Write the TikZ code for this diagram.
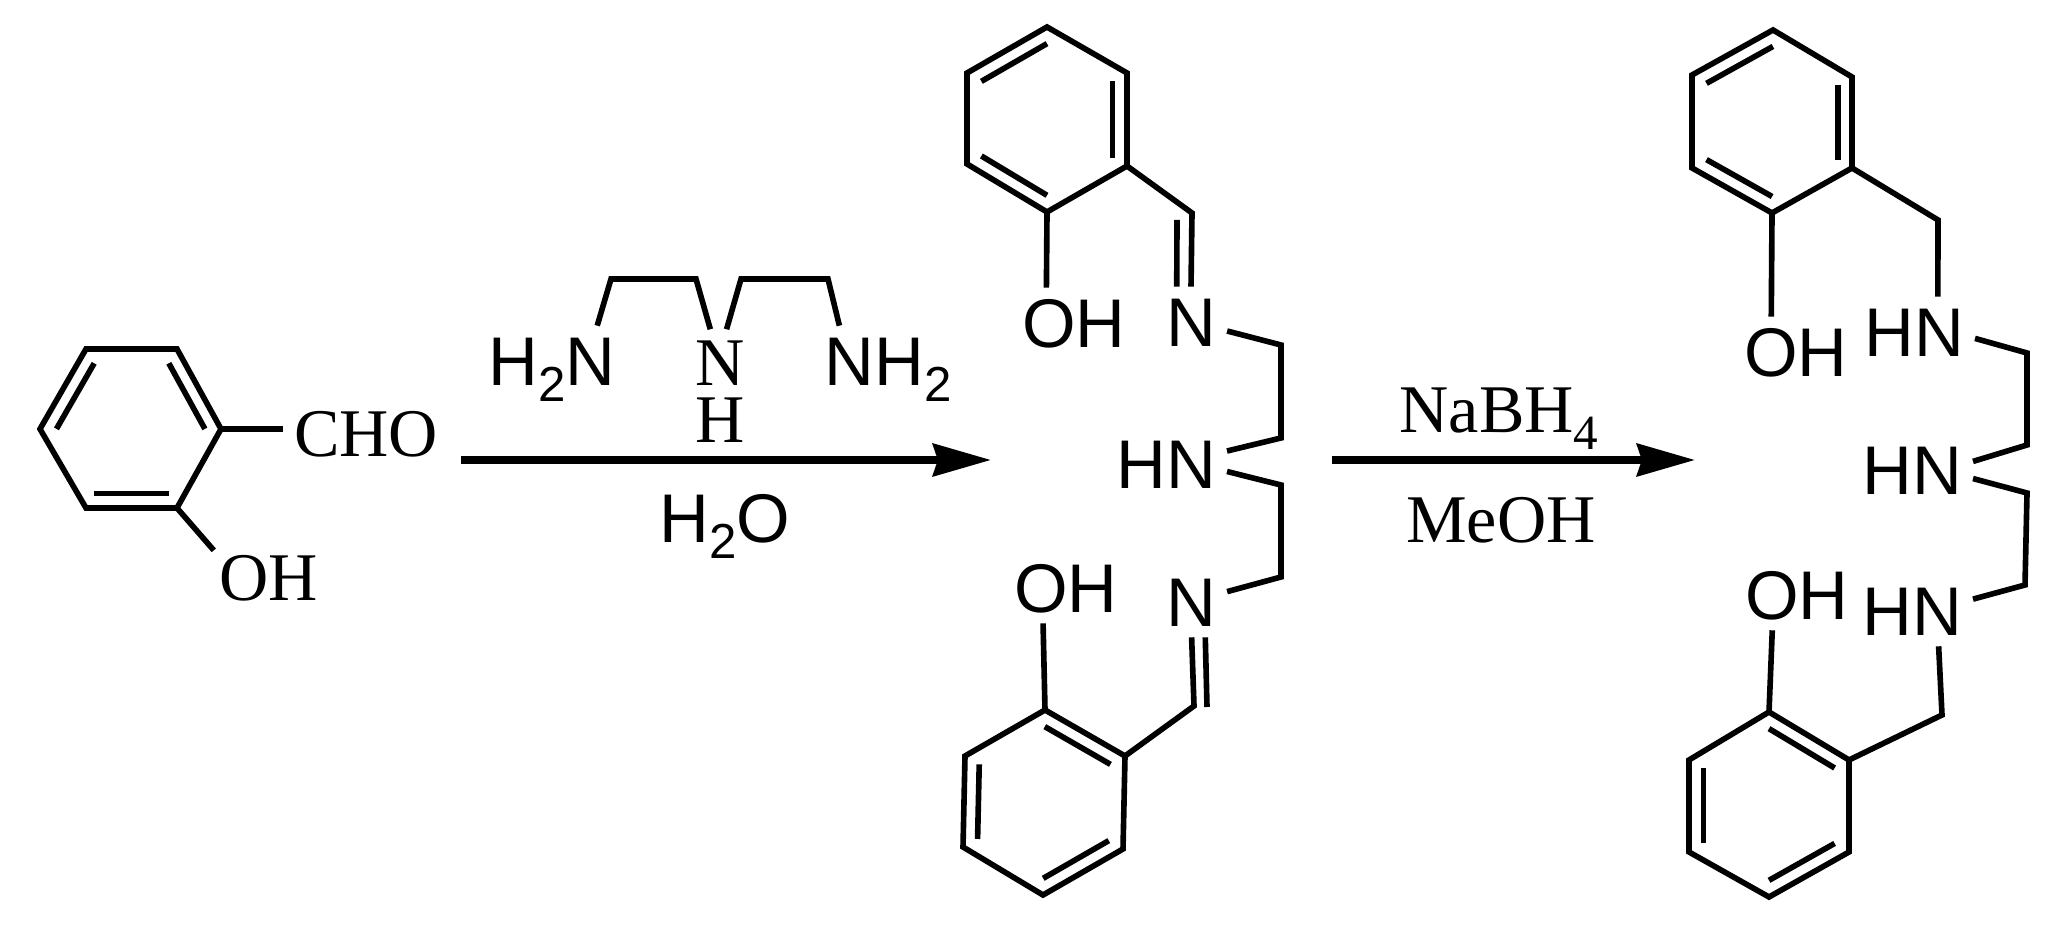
\documentclass[tikz,border=0pt]{standalone}
\usepackage{fontspec}
\setmainfont{Liberation Serif}
\setsansfont{Liberation Sans}
\usetikzlibrary{calc}
\usetikzlibrary{arrows.meta}
\tikzset{
	bond/.style={line width=1.6pt},
	rxn/.style={line width=2.1pt, -{Stealth[length=16.5pt, width=9.2pt, inset=1.4pt]}},
	atom/.style={inner sep=3pt, text height=12.8pt, text depth=0pt, font=\fontsize{19.4}{22}\selectfont},
	satom/.style={inner sep=3pt, text height=13.7pt, text depth=0pt, font=\fontsize{19.6}{22}\selectfont\sffamily}
}
\newcommand{\sbs}[1]{\raisebox{-4.8pt}{\fontsize{14}{14}\selectfont #1}}
\newcommand{\ringbond}[3]{\draw[bond] ($(#1)!.18!(#3)$) -- ($(#2)!.18!(#3)$);}

\begin{document}
\begin{tikzpicture}[y=-1cm]
	\useasboundingbox (0,0) rectangle (20.67,9.28);
	% salicylaldehyde
	\coordinate (a1) at (0.86,3.49);
	\coordinate (a2) at (1.77,3.49);
	\coordinate (a3) at (2.21,4.29);
	\coordinate (a4) at (1.77,5.08);
	\coordinate (a5) at (0.86,5.08);
	\coordinate (a6) at (0.40,4.29);
	\coordinate (ac) at ($(a1)!.5!(a4)$);
	\node[atom] (aCHO) at (3.66,4.34) {CHO};
	\node[atom] (aOH) at (2.69,5.78) {OH};
	\draw[bond] (a1) -- (a2) -- (a3) -- (a4) -- (a5) -- (a6) -- cycle;
	\ringbond{a1}{a6}{ac}
	\ringbond{a2}{a3}{ac}
	\ringbond{a4}{a5}{ac}
	\draw[bond] (a3) -- (a3 -| aCHO.west);
	\draw[bond, shorten >=-2.3pt] (a4) -- (aOH.north west);
	% amine over the first arrow
	\node[satom] (rA) at (5.52,3.61) {H\sbs{2}N};
	\node[atom] (rN) at (7.20,3.63) {N};
	\node[atom] (rH) at (7.20,4.20) {H};
	\node[satom] (rB) at (8.88,3.61) {NH\sbs{2}};
	\coordinate (r1) at (6.11,2.79);
	\coordinate (r2) at (6.96,2.79);
	\coordinate (r3) at (7.41,2.79);
	\coordinate (r4) at (8.28,2.79);
	\draw[bond] (rA.38) -- (r1) -- (r2) -- (rN.106);
	\draw[bond] (rN.79) -- (r3) -- (r4) -- (rB.144);
	% first arrow
	\coordinate (s1) at (4.61,4.60);
	\coordinate (s2) at (9.91,4.60);
	\draw[rxn] (s1) -- (s2);
	\node[satom] (rW) at (7.25,5.18) {H\sbs{2}O};
	% imine, upper half
	\coordinate (b1) at (10.47,0.27);
	\coordinate (b2) at (11.27,0.73);
	\coordinate (b3) at (11.27,1.66);
	\coordinate (b4) at (10.47,2.12);
	\coordinate (b5) at (9.67,1.64);
	\coordinate (b6) at (9.67,0.73);
	\coordinate (bc) at ($(b1)!.5!(b4)$);
	\coordinate (b7) at (11.92,2.13);
	\coordinate (b8) at (11.77,2.20);
	\node[satom] (bOH) at (10.74,3.23) {OH};
	\node[satom] (bN) at (11.91,3.22) {N};
	\draw[bond] (b1) -- (b2) -- (b3) -- (b4) -- (b5) -- (b6) -- cycle;
	\ringbond{b1}{b6}{bc}
	\ringbond{b2}{b3}{bc}
	\ringbond{b4}{b5}{bc}
	\draw[bond] (b4) -- (bOH.128);
	\draw[bond] (b3) -- (b7) -- (bN.90);
	\draw[bond] (b8) -- (bN.112);
	% imine, chain
	\coordinate (m1) at (12.81,3.45);
	\coordinate (m2) at (12.81,4.38);
	\coordinate (m3) at (12.81,4.85);
	\coordinate (m4) at (12.81,5.77);
	\node[satom] (mHN) at (11.66,4.64) {HN};
	\node[satom] (cN) at (11.91,6.02) {N};
	\draw[bond] (bN.-14) -- (m1) -- (m2) -- (mHN.12);
	\draw[bond] (mHN.-7) -- (m3) -- (m4) -- (cN.16);
	% imine, lower half
	\coordinate (c1) at (10.45,7.10);
	\coordinate (c2) at (11.25,7.56);
	\coordinate (c3) at (11.23,8.49);
	\coordinate (c4) at (10.43,8.95);
	\coordinate (c5) at (9.63,8.47);
	\coordinate (c6) at (9.65,7.56);
	\coordinate (cc) at ($(c1)!.5!(c4)$);
	\coordinate (c7) at (11.94,7.06);
	\coordinate (c8) at (12.07,7.07);
	\node[satom] (cOH) at (10.66,5.88) {OH};
	\draw[bond] (c1) -- (c2) -- (c3) -- (c4) -- (c5) -- (c6) -- cycle;
	\ringbond{c1}{c2}{cc}
	\ringbond{c5}{c6}{cc}
	\ringbond{c3}{c4}{cc}
	\draw[bond] (c1) -- (cOH.237);
	\draw[bond] (c2) -- (c7) -- (cN.-89);
	\draw[bond] (c8) -- (cN.-68);
	% second arrow
	\coordinate (s3) at (13.32,4.60);
	\coordinate (s4) at (16.95,4.60);
	\draw[rxn] (s3) -- (s4);
	\node[atom] (sNa) at (14.99,4.10) {NaBH\sbs{4}};
	\node[atom] (sMe) at (15.01,5.20) {MeOH};
	% amine, upper half
	\coordinate (d1) at (17.73,0.30);
	\coordinate (d2) at (18.52,0.77);
	\coordinate (d3) at (18.52,1.68);
	\coordinate (d4) at (17.72,2.13);
	\coordinate (d5) at (16.92,1.68);
	\coordinate (d6) at (16.92,0.75);
	\coordinate (dc) at ($(d1)!.5!(d4)$);
	\coordinate (d7) at (19.38,2.20);
	\node[satom] (dOH) at (17.96,3.52) {OH};
	\node[satom] (dHN) at (19.14,3.32) {HN};
	\draw[bond] (d1) -- (d2) -- (d3) -- (d4) -- (d5) -- (d6) -- cycle;
	\ringbond{d1}{d6}{dc}
	\ringbond{d2}{d3}{dc}
	\ringbond{d4}{d5}{dc}
	\draw[bond] (d4) -- (dOH.125);
	\draw[bond] (d3) -- (d7) -- (dHN.56);
	% amine, chain
	\coordinate (n1) at (20.27,3.53);
	\coordinate (n2) at (20.27,4.45);
	\coordinate (n3) at (20.27,4.93);
	\coordinate (n4) at (20.25,5.85);
	\node[satom] (nHN) at (19.12,4.70) {HN};
	\node[satom] (eHN) at (19.12,6.11) {HN};
	\draw[bond] (dHN.-6) -- (n1) -- (n2) -- (nHN.8);
	\draw[bond] (nHN.-8) -- (n3) -- (n4) -- (eHN.11);
	% amine, lower half
	\coordinate (e1) at (17.69,7.12);
	\coordinate (e2) at (18.49,7.60);
	\coordinate (e3) at (18.49,8.52);
	\coordinate (e4) at (17.69,8.97);
	\coordinate (e5) at (16.89,8.52);
	\coordinate (e6) at (16.89,7.60);
	\coordinate (ec) at ($(e1)!.5!(e4)$);
	\coordinate (e7) at (19.42,7.15);
	\node[satom] (eOH) at (17.97,5.95) {OH};
	\draw[bond] (e1) -- (e2) -- (e3) -- (e4) -- (e5) -- (e6) -- cycle;
	\ringbond{e1}{e2}{ec}
	\ringbond{e5}{e6}{ec}
	\ringbond{e3}{e4}{ec}
	\draw[bond] (e1) -- (eOH.235);
	\draw[bond] (e2) -- (e7) -- (eHN.-53);
\end{tikzpicture}
\end{document}
